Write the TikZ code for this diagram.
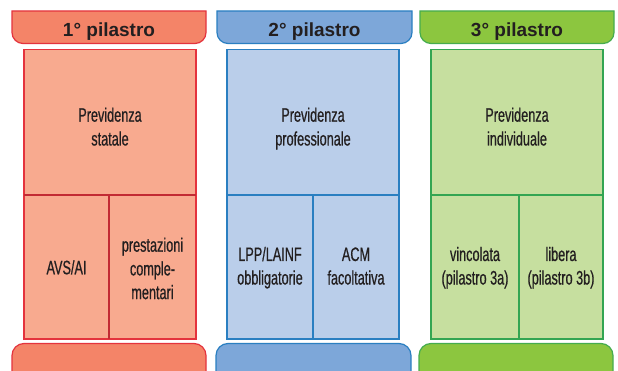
\documentclass[tikz,border=0pt]{standalone}
\usepackage{fontspec}
\setmainfont{Liberation Sans}
\newfontfamily\hdrfont{Liberation Sans}
\newfontfamily\condfont[FakeStretch=0.65,FakeBold=0.6]{Liberation Sans}
\definecolor{redline}{HTML}{E4333D}
\definecolor{redhead}{HTML}{F48468}
\definecolor{redbody}{HTML}{F8AA8F}
\definecolor{blueline}{HTML}{2A7FC1}
\definecolor{bluehead}{HTML}{7DA7D9}
\definecolor{bluebody}{HTML}{BACEEA}
\definecolor{greenline}{HTML}{33A552}
\definecolor{greenhead}{HTML}{8CC63F}
\definecolor{greenbody}{HTML}{C6DF9F}
\definecolor{txt}{HTML}{231F20}
\tikzset{
  boxline/.style={line width=1.2pt},
  hdrtext/.style={anchor=base, inner sep=0pt, text=txt, font=\hdrfont\bfseries\fontsize{19}{22}\selectfont},
  bodytext/.style={anchor=base, inner sep=0pt, text=txt, font=\condfont\fontsize{19.5}{24}\selectfont}
}
% header tab: left, right, style ; top 11, bottom 43.5, radius 11 on bottom corners
\newcommand{\headtab}[3]{%
  \draw[boxline, #3] (#1,11) -- (#2,11) -- (#2,32.5)
    .. controls (#2,38.57) and ({#2-4.93},43.5) .. ({#2-11},43.5)
    -- ({#1+11},43.5)
    .. controls ({#1+4.93},43.5) and (#1,38.57) .. (#1,32.5) -- cycle;}
% bottom bar: left, right, style ; top 343.5, radius 12 on top corners
\newcommand{\footbar}[3]{%
  \draw[boxline, #3] (#1,395) -- (#1,355.5)
    .. controls (#1,348.88) and ({#1+5.38},343.5) .. ({#1+12},343.5)
    -- ({#2-12},343.5)
    .. controls ({#2-5.38},343.5) and (#2,348.88) .. (#2,355.5) -- (#2,395) -- cycle;}
\begin{document}
\begin{tikzpicture}[x=1pt,y=-1pt]
\useasboundingbox (0,0) rectangle (618,371);
\clip (0,0) rectangle (618,371);
% headers
\headtab{12}{206}{draw=redline, fill=redhead}
\headtab{217}{412}{draw=blueline, fill=bluehead}
\headtab{420}{614}{draw=greenline!80!greenhead, fill=greenhead}
% bottom bars
\footbar{12}{206}{draw=redline, fill=redhead}
\footbar{216}{411}{draw=blueline, fill=bluehead}
\footbar{419}{613}{draw=greenline!80!greenhead, fill=greenhead}
% bodies
\draw[boxline, draw=redline, fill=redbody] (24,49.5) rectangle (196,339);
\draw[boxline, draw=redline!85!black] (24,195) -- (196,195) (109,195) -- (109,339);
\draw[boxline, draw=blueline, fill=bluebody] (227,49.5) rectangle (399,339);
\draw[boxline, draw=blueline] (227,195) -- (399,195) (313,195) -- (313,339);
\draw[boxline, draw=greenline, fill=greenbody] (431,49.5) rectangle (603,339);
\draw[boxline, draw=greenline] (431,195) -- (603,195) (519,195) -- (519,339);
% header texts
\node[hdrtext] (h1) at (109,36.7) {1° pilastro};
\node[hdrtext] (h2) at (314.5,36.7) {2° pilastro};
\node[hdrtext] (h3) at (517,36.7) {3° pilastro};
% pillar 1
\node[bodytext] (p1a) at (110,121.7) {Previdenza};
\node[bodytext] (p1b) at (110,145.5) {statale};
\node[bodytext] (avs) at (66.5,274.3) {AVS/AI};
\node[bodytext] (pc1) at (152.5,251.7) {prestazioni};
\node[bodytext] (pc2) at (152.5,275.4) {comple-};
\node[bodytext] (pc3) at (152.5,299.1) {mentari};
% pillar 2
\node[bodytext] (p2a) at (313,121.7) {Previdenza};
\node[bodytext] (p2b) at (313,145.5) {professionale};
\node[bodytext] (lpp1) at (270,261) {LPP/LAINF};
\node[bodytext] (lpp2) at (270,284.5) {obbligatorie};
\node[bodytext] (acm1) at (356,261) {ACM};
\node[bodytext] (acm2) at (356,284.5) {facoltativa};
% pillar 3
\node[bodytext] (p3a) at (517,121.7) {Previdenza};
\node[bodytext] (p3b) at (517,145.5) {individuale};
\node[bodytext] (v1) at (475,261) {vincolata};
\node[bodytext] (v2) at (475,284.5) {(pilastro 3a)};
\node[bodytext] (l1) at (561,261) {libera};
\node[bodytext] (l2) at (561,284.5) {(pilastro 3b)};
\end{tikzpicture}
\end{document}
